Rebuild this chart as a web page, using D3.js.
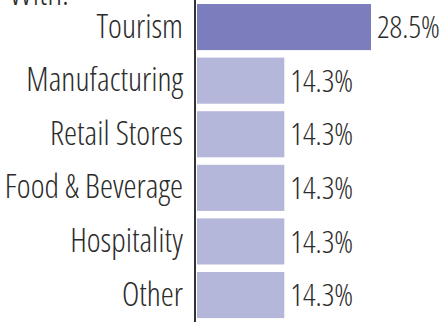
<!DOCTYPE html>
<html>
<head>
<meta charset="utf-8">
<script src="https://cdn.jsdelivr.net/npm/d3@7"></script>
<style>
  html, body { margin: 0; padding: 0; background: #fff; overflow: hidden; }
  svg text { font-family: "Open Sans", "DejaVu Sans Condensed", sans-serif; font-weight: 300; font-stretch: condensed; fill: #2b2b2b; }
</style>
</head>
<body>
<svg id="chart" width="445" height="322"></svg>
<script>
const categories = ["Tourism", "Manufacturing", "Retail Stores", "Food & Beverage", "Hospitality", "Other"];
const values = [28.5, 14.3, 14.3, 14.3, 14.3, 14.3];
const highlight = "Tourism";
const title = "With:";

const svg = d3.select("#chart");
const axisX = 195;

const x = d3.scaleLinear().domain([0, 28.5]).range([axisX + 2, 371]);
const y = d3.scaleBand().domain(categories).range([-3.5, 325.6]).paddingInner(0.14).paddingOuter(0.14);

svg.append("text")
  .attr("x", 9)
  .attr("y", 5)
  .style("font-size", "35px")
  .text(title);

svg.selectAll("rect.bar")
  .data(categories)
  .enter().append("rect")
  .attr("class", "bar")
  .attr("x", x(0))
  .attr("y", d => y(d))
  .attr("width", (d, i) => x(values[i]) - x(0))
  .attr("height", y.bandwidth())
  .attr("fill", d => d === highlight ? "#7b7dbc" : "#b4b6da");

svg.selectAll("text.cat")
  .data(categories)
  .enter().append("text")
  .attr("class", "cat")
  .attr("x", axisX - 12)
  .attr("y", d => y(d) + y.bandwidth() / 2)
  .attr("dy", "0.32em")
  .attr("text-anchor", "end")
  .style("font-size", "33px")
  .text(d => d);

svg.selectAll("text.val")
  .data(categories)
  .enter().append("text")
  .attr("class", "val")
  .attr("x", (d, i) => x(values[i]) + 6)
  .attr("y", d => y(d) + y.bandwidth() / 2)
  .attr("dy", "0.36em")
  .style("font-size", "31px")
  .text((d, i) => values[i].toFixed(1) + "%");

svg.append("line")
  .attr("x1", axisX).attr("x2", axisX)
  .attr("y1", 0).attr("y2", 322)
  .attr("stroke", "#333")
  .attr("stroke-width", 2);
</script>
</body>
</html>
